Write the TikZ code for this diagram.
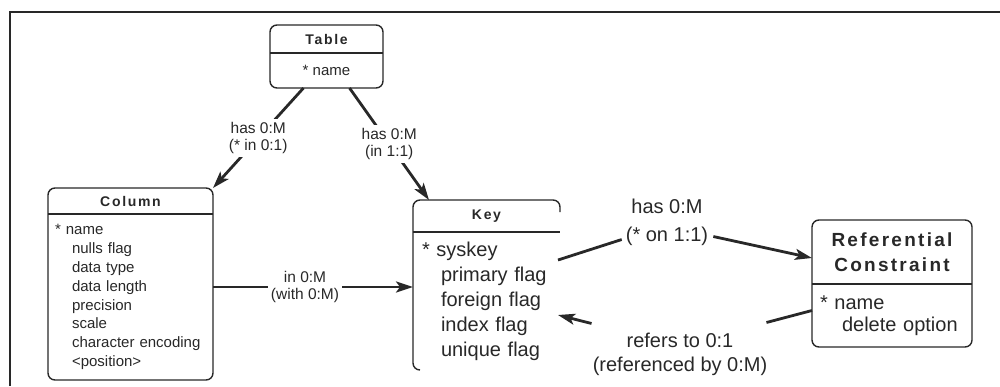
\documentclass[tikz,border=0pt]{standalone}
\usepackage{fontspec}
\setmainfont{Liberation Sans}
\newfontfamily\titlefont{Liberation Sans}[LetterSpace=12]
\usetikzlibrary{positioning,calc,arrows.meta}
\definecolor{scanink}{RGB}{40,40,40}

\begin{document}
\begin{tikzpicture}[x=1pt, y=-1pt,
    headbox/.style={rectangle, inner sep=0pt, outer sep=0pt, align=center, text=scanink,
                    font=\titlefont\bfseries\fontsize{14}{16}\selectfont},
    bodybox/.style={rectangle, inner ysep=0pt, outer sep=0pt, align=left, text=scanink},
    boxline/.style={line width=1.4pt, rounded corners=7pt, draw=scanink},
    outerframe/.style={line width=2.6pt, draw=scanink},
    rel/.style={line width=2.8pt, draw=scanink},
    relhead/.style={rel, -{Stealth[length=17pt, width=11pt, inset=4pt]}},
    smalllabel/.style={fill=white, inner sep=3pt, align=center, text=scanink,
                       font=\fontsize{15.5}{17}\selectfont},
    biglabel/.style={inner sep=3pt, align=center, text=scanink}
]
    \useasboundingbox (0,0) rectangle (1000,386);

    % frame of the scanned page
    \draw[outerframe] (10,386) -- (10,12) -- (1000,12);

    % Table
    \node[headbox, minimum width=113pt, minimum height=28pt, anchor=north west] (table) at (270,25) {Table};
    \node[bodybox, below=0pt of table, minimum width=113pt, minimum height=35pt, align=center,
          font=\fontsize{15}{18}\selectfont] (tbody) {* name};

    % Column
    \node[headbox, minimum width=165pt, minimum height=26pt, anchor=north west] (column) at (48,188) {Column};
    \node[bodybox, below=0pt of column, minimum height=166pt, text width=151pt, inner xsep=7pt,
          font=\fontsize{15}{18.9}\selectfont] (cbody)
          {* name\\\hspace*{17pt}nulls flag\\\hspace*{17pt}data type\\\hspace*{17pt}data length\\
           \hspace*{17pt}precision\\\hspace*{17pt}scale\\\hspace*{17pt}character encoding\\
           \hspace*{17pt}<position>};

    % Key
    \node[headbox, minimum width=147pt, minimum height=32pt, anchor=north west] (key) at (413,200) {Key};
    \node[bodybox, below=0pt of key, minimum height=138pt, text width=129pt, inner xsep=9pt,
          font=\fontsize{20}{25}\selectfont] (kbody)
          {* syskey\\\hspace*{19pt}primary flag\\\hspace*{19pt}foreign flag\\
           \hspace*{19pt}index flag\\\hspace*{19pt}unique flag};

    % Referential Constraint
    \node[headbox, minimum width=160pt, minimum height=64pt, anchor=north west,
          font=\titlefont\bfseries\fontsize{19}{25}\selectfont] (refc) at (812,220) {Referential\\Constraint};
    \node[bodybox, below=0pt of refc, minimum height=63pt, text width=144pt, inner xsep=8pt,
          font=\fontsize{20}{22}\selectfont] (rbody) {* name\\\hspace*{22pt}delete option};

    % Box outlines
    \draw[boxline] (table.north west) rectangle (tbody.south east);
    \draw[boxline] (table.south west) -- (table.south east);
    \draw[boxline] (column.north west) rectangle (cbody.south east);
    \draw[boxline] (column.south west) -- (column.south east);
    \draw[boxline] ($(kbody.south west)+(7,0)$) -- (kbody.south west) -- (key.north west)
                   -- (key.north east) -- ($(key.north east)+(0,12)$);
    \draw[boxline] (key.south west) -- (key.south east);
    \draw[boxline] (refc.north west) rectangle (rbody.south east);
    \draw[boxline] (refc.south west) -- (refc.south east);

    % Relations
    \draw[relhead] ($(tbody.south)+(-23,0)$) -- node[smalllabel] (tcl) {has 0:M\\(* in 0:1)} (column.north east);
    \draw[relhead] ($(tbody.south)+(23,0)$) -- node[smalllabel] (tkl) {has 0:M\\(in 1:1)} ($(key.north west)+(16,0)$);

    \coordinate (ckstart) at ($(cbody.east)+(0,-10)$);
    \draw[relhead] (ckstart) -- node[smalllabel, pos=0.46] (ckl) {in 0:M\\(with 0:M)} (ckstart -| kbody.west);

    \node[biglabel, font=\fontsize{20}{28}\selectfont] (krl) at (667,222) {has 0:M\\(* on 1:1)};
    \draw[rel] ($(kbody.north east)+(-2,28)$) -- ($(krl.south west)+(-1,-9)$);
    \draw[relhead] ($(krl.south east)+(2,-12)$) -- ($(refc.west)+(0,6)$);

    \node[biglabel, font=\fontsize{20}{24}\selectfont] (rkl) at (680,354) {refers to 0:1\\(referenced by 0:M)};
    \draw[rel] ($(rbody.west)+(0,-5)$) -- ($(rkl.north east)+(-4,-7)$);
    \draw[relhead] ($(rkl.north west)+(2,-6)$) -- ($(kbody.east)+(-2,14)$);
\end{tikzpicture}
\end{document}
